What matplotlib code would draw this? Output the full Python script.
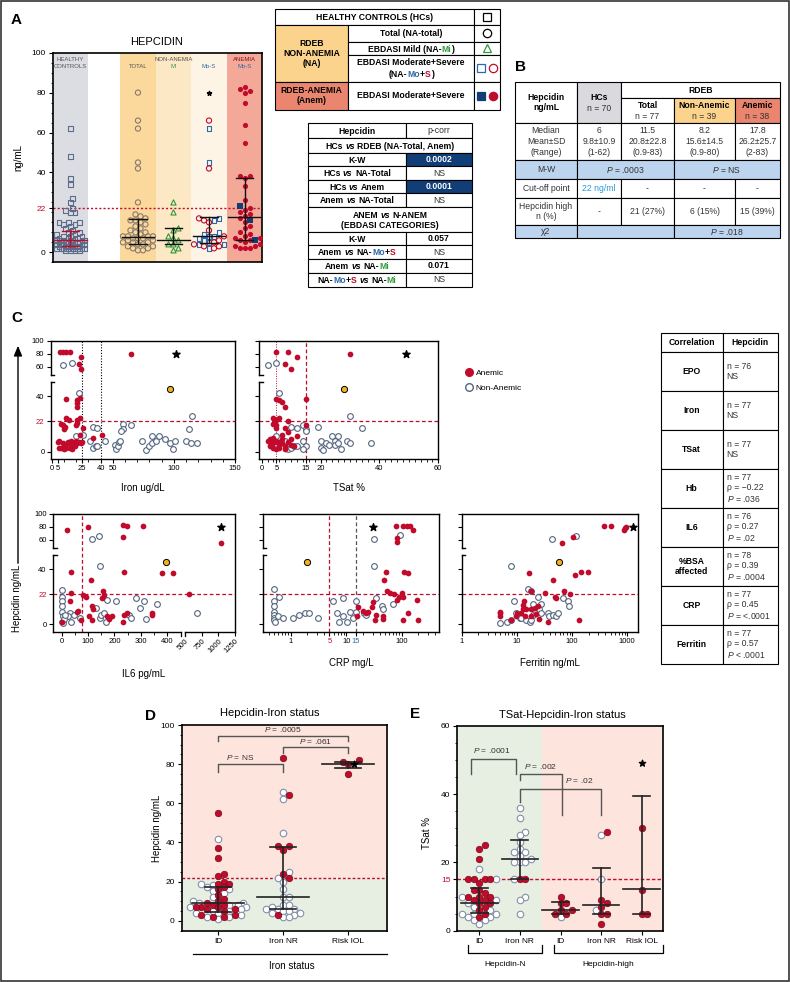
import re
import numpy as np
import matplotlib
matplotlib.use("Agg")
import matplotlib.pyplot as plt
from matplotlib.patches import Rectangle
from matplotlib.lines import Line2D
from matplotlib.ticker import MultipleLocator, FixedLocator, LogLocator, NullFormatter

W, H = 790, 982
SANS = ["Liberation Sans", "DejaVu Sans"]
NARROW = ["Liberation Sans Narrow", "Liberation Sans", "DejaVu Sans"]
plt.rcParams["font.family"] = SANS
plt.rcParams["mathtext.fontset"] = "custom"
plt.rcParams["mathtext.rm"] = "Liberation Sans"
plt.rcParams["mathtext.it"] = "Liberation Sans:italic"
plt.rcParams["axes.linewidth"] = 1.0

RED = "#c10b2d"
NAVY = "#123e78"
BLUE = "#2f68a8"
GREEN = "#2e9a3a"
GREYBLUE = "#55657e"
HC_EDGE = "#5b6d88"
TOT_EDGE = "#8a7a6a"
ORANGE_BG = "#fcd38d"
SALMON_BG = "#ea866f"
PINK = "#fde4dc"
MINT = "#e7efe3"

# ---------------- panel A: hepcidin by group ----------------
A_HC = [62, 48, 37, 34, 27, 25, 22, 21, 20, 20, 15, 15, 15, 14, 14, 13, 12, 11, 10, 10,
        9, 9, 8, 8, 8, 7, 7, 7, 7, 6, 6, 6, 6, 6, 6, 6, 5, 5, 5, 5,
        5, 5, 5, 4, 4, 4, 4, 4, 4, 4, 3, 3, 3, 3, 3, 3, 3, 3, 2, 2,
        2, 2, 2, 2, 2, 2, 1, 1, 1, 1]
A_TOTAL = [80, 66, 62, 45, 42, 25, 19, 18, 17, 16, 16, 15, 14, 13, 12, 11, 10, 10, 9, 8,
           8, 8, 8, 7, 7, 7, 6, 6, 5, 5, 5, 4, 4, 3, 3, 2, 2, 1, 1]
A_MI = [25, 20, 12, 11, 8, 7, 6, 4, 4, 2, 1]
A_MOS_SQ = [62, 45, 17, 16, 10, 9, 8, 8, 7, 6, 5, 4, 4, 2]
A_MOS_CIRC = [66, 42, 17, 16, 15, 11, 8, 6, 5, 4, 3, 3, 2]
A_MOS_STAR = [80]
A_AN_RED = [83, 82, 81, 80, 75, 64, 55, 38, 38, 37, 33, 26, 22, 21, 20, 19, 18, 17, 15, 13,
            12, 10, 9, 8, 7, 7, 6, 6, 5, 4, 3, 3, 2, 2, 2]
A_AN_SQ = [23, 16, 6]
A_MED = [6, 7.7, 6.3, 8.3, 17.7]
A_Q1 = [3, 4.3, 4, 4.7, 6]
A_Q3 = [10.5, 16.8, 12.3, 17.5, 37]

# ---------------- panel C: correlations ----------------
STAR_Y, GOLD_Y = 80, 45
IRON_AN = [(7, 82), (9, 82), (12, 82), (15, 83), (24, 75), (22, 64), (24, 57), (65, 80),
           (12, 38), (21, 37), (23, 39), (21, 32), (21, 35),
           (12, 24), (14, 23), (21, 23), (23, 24), (9, 19), (11, 18), (8, 20), (20, 19), (21, 21),
           (10, 16), (26, 17), (6, 8), (6, 3), (8, 3), (9, 6), (10, 2), (11, 5), (12, 3), (13, 7),
           (14, 6), (15, 3), (16, 5), (17, 2), (18, 6), (19, 4), (20, 8), (21, 6), (22, 7), (24, 6),
           (25, 7), (34, 10), (41, 12), (23, 12), (5, 7), (16, 8)]
IRON_NON = [(9, 62), (17, 66), (22, 42), (20, 11), (26, 12), (31, 8), (34, 18), (37, 17), (34, 3),
            (36, 4), (37, 4), (44, 8), (58, 20), (58, 16), (57, 15), (65, 19), (52, 5), (53, 2),
            (54, 4), (55, 7), (56, 8), (74, 8), (77, 1), (80, 4), (82, 6), (85, 8), (82, 11),
            (88, 11), (93, 9), (97, 6), (99, 2), (101, 8), (110, 8), (112, 16), (114, 6),
            (115, 26), (119, 6)]
IRON_STAR, IRON_GOLD = 102, 97

TSAT_AN = [(5, 82), (9, 83), (8, 64), (10, 57), (12, 75), (30, 80), (5, 38), (6, 37), (7, 36),
           (8, 32), (15, 38), (4, 24), (5, 23), (6, 24), (9, 22), (4, 20), (5, 17), (5, 19),
           (8, 17), (9, 14), (12, 11), (15, 19), (2, 8), (3, 7), (3, 4), (4, 3), (4, 6), (5, 2),
           (5, 8), (6, 5), (6, 3), (7, 9), (7, 6), (8, 4), (8, 2), (9, 7), (10, 5), (6, 7), (3, 9),
           (4, 10), (7, 12), (11, 4), (10, 9)]
TSAT_NON = [(2, 62), (5, 66), (6, 42), (5, 11), (10, 18), (12, 17), (14, 19), (15, 16), (15, 15),
            (19, 18), (8, 8), (9, 2), (10, 3), (11, 4), (12, 4), (14, 8), (15, 4), (14, 2), (20, 8),
            (20, 3), (21, 1), (24, 11), (26, 11), (25, 8), (25, 5), (26, 6), (27, 2), (29, 8),
            (30, 6), (30, 26), (34, 17), (37, 6), (22, 6), (23, 5)]
TSAT_STAR, TSAT_GOLD = 49, 28

IL6_AN = [(19, 75), (101, 80), (232, 83), (247, 82), (310, 81), (232, 64), (1040, 55), (35, 38),
          (237, 38), (380, 37), (424, 37), (110, 32), (565, 22), (0, 2), (35, 23), (30, 17),
          (63, 10), (72, 3), (82, 21), (93, 20), (105, 6), (114, 3), (114, 13), (120, 11),
          (152, 19), (158, 24), (161, 21), (171, 6), (181, 4), (190, 6), (232, 2), (237, 7),
          (247, 8), (342, 8), (344, 7), (60, 9)]
IL6_NON = [(114, 62), (143, 66), (145, 42), (2, 25), (3, 20), (2, 17), (2, 13), (3, 9), (4, 6),
           (3, 2), (5, 1), (30, 8), (47, 7), (25, 6), (36, 2), (68, 5), (130, 12), (145, 5),
           (150, 7), (160, 8), (167, 2), (171, 18), (206, 17), (282, 19), (298, 12), (311, 17),
           (256, 7), (263, 5), (319, 4), (363, 15), (675, 8), (10, 4), (12, 7)]
IL6_STAR, IL6_GOLD = 1040, 396

CRP_AN = [(79, 82), (107, 81), (123, 82), (141, 82), (162, 75), (81, 63), (82, 57), (52, 38),
          (48, 32), (110, 38), (131, 37), (54, 24), (62, 23), (73, 22), (81, 18), (91, 20),
          (104, 20), (100, 23), (186, 18), (16.5, 12.5), (20, 10), (23, 8), (15.5, 6), (29, 12.5),
          (34, 7), (47, 6), (47, 4), (107, 3), (129, 8), (199, 3), (33, 3), (25, 9), (30, 16)]
CRP_NON = [(32, 62), (93, 67), (32, 42), (0.51, 26), (0.62, 20), (0.51, 17), (0.51, 13),
           (0.51, 9), (0.51, 7), (0.51, 5), (0.51, 3), (0.52, 1.5), (0.58, 6), (0.72, 5), (1.1, 5),
           (1.43, 7), (1.8, 8), (2.1, 8), (3.1, 5), (5.9, 17), (6.9, 8), (7.4, 2), (8.9, 19),
           (8.9, 6), (10.2, 2), (11.7, 9), (13.1, 5), (15, 17), (15, 9), (21, 8), (23, 7), (34, 19),
           (44, 13), (47, 11), (69, 15)]
CRP_STAR, CRP_GOLD = 30, 2.0

FER_AN = [(377, 82), (505, 81), (908, 79), (946, 80), (881, 76), (66, 56), (104, 64), (16.5, 37),
          (46, 32), (112, 36), (144, 38), (195, 38), (33, 23), (72, 24), (93, 22), (49, 20),
          (52, 19), (17.7, 24.5), (13.4, 17), (12.9, 14), (14.8, 11), (18.3, 11), (24, 13),
          (12.9, 11), (11.7, 8), (9.8, 6), (14, 6), (18.3, 6), (22.5, 7.5), (25.5, 4), (21, 12),
          (10, 8), (4.85, 9), (4.85, 8), (4.85, 6), (7.7, 3), (37, 2), (134, 3)]
FER_NON = [(43, 62), (117, 66), (7.7, 42), (15.8, 26), (18.3, 24), (8.7, 17), (4.85, 1),
           (6.6, 2), (7.9, 3), (9.8, 8), (11.2, 5), (12, 5), (14.8, 3), (17, 2), (18.3, 3),
           (19.6, 7), (22.5, 9), (24, 20), (27.7, 15), (20, 15), (25, 11), (27.7, 8), (36.6, 8),
           (38, 6), (45, 7), (52, 6), (56, 8), (69, 19), (85, 17), (88, 13)]
FER_STAR, FER_GOLD = 1253, 57

CORR_NAMES = ["EPO", "Iron", "TSat", "Hb", "IL6", "%BSA\naffected", "CRP", "Ferritin"]
CORR_VALUES = ["n = 76\nNS", "n = 77\nNS", "n = 77\nNS",
               "n = 77\nρ = −0.22\n$P$ = .036", "n = 76\nρ = 0.27\n$P$ = .02",
               "n = 78\nρ = 0.39\n$P$ = .0004", "n = 77\nρ = 0.45\n$P$ = <.0001",
               "n = 77\nρ = 0.57\n$P$ < .0001"]

# ---------------- panel D: hepcidin by iron status ----------------
D_CATS = ["ID", "Iron NR", "Risk IOL"]
D_RED = [[55, 37, 32, 24, 23, 20, 19, 19, 17, 16, 13, 11, 10, 9, 8, 8, 7, 7, 7, 6, 6, 5, 3, 3, 2, 2],
         [83, 64, 38, 38, 36, 24, 22, 3],
         [82, 81, 80, 75]]
D_OPEN = [[42, 19, 18, 17, 16, 15, 14, 12, 10, 9, 9, 8, 8, 7, 7, 6, 5, 5, 4, 4, 3, 2, 2, 1],
          [66, 62, 45, 25, 22, 20, 16, 12, 12, 8, 8, 7, 6, 6, 6, 5, 5, 4, 4, 3, 2, 2],
          []]
D_STAR = [[], [], [80]]
D_MED = [8.9, 12.3, 80]
D_Q1 = [4.6, 6, 77.8]
D_Q3 = [17.4, 37.6, 81.3]

# ---------------- panel E: TSat by hepcidin / iron status ----------------
E_CATS = ["ID", "Iron NR", "ID", "Iron NR", "Risk IOL"]
E_RED = [[25, 24, 21, 15, 15, 15, 15, 14, 12, 12, 11, 10, 10, 10, 9, 9, 8, 8, 7, 6, 5, 4],
         [15, 15],
         [10, 8, 8, 6, 6, 5, 5],
         [29, 9, 8, 7, 5, 5, 2],
         [30, 12, 5, 5]]
E_OPEN = [[18, 15, 10, 9, 8, 7, 6, 5, 5, 5, 4, 4, 3, 3, 2],
          [36, 33, 29, 28, 26, 24, 23, 23, 22, 21, 20, 20, 20, 15, 10, 9, 5],
          [4],
          [28, 15, 6],
          []]
E_STAR = [[], [], [], [], [49]]
E_MED = [8, 21, 6.1, 7.6, 12.1]
E_Q1 = [5.1, 15, 5, 5, 5]
E_Q3 = [12.4, 26.5, 8.5, 18.3, 39.4]


def swarm(vals, xpu, ypu, diam, half):
    """x offsets (data units) for a simple beeswarm; xpu/ypu are px per unit."""
    vals = np.asarray(vals, dtype=float)
    off = np.zeros(len(vals))
    step = diam * 0.5
    n = max(1, int(half * xpu / step))
    cands = [0.0]
    for k in range(1, n + 1):
        cands += [k * step, -k * step]
    px, py = [], []
    for i in np.argsort(vals, kind="stable"):
        y = vals[i] * ypu
        best, best_d = 0.0, -1.0
        for c in cands:
            d = np.min(np.hypot(np.array(px) - c, np.array(py) - y)) if px else np.inf
            if d >= diam:
                best = c
                break
            if d > best_d:
                best, best_d = c, d
        off[i] = best / xpu
        px.append(best)
        py.append(y)
    return off


def summary(ax, xc, med, q1, q3, color, mw, cw, lw):
    ax.plot([xc - mw / 2, xc + mw / 2], [med, med], color=color, lw=lw, zorder=5)
    ax.plot([xc, xc], [q1, q3], color=color, lw=lw, zorder=5)
    for q in (q1, q3):
        ax.plot([xc - cw / 2, xc + cw / 2], [q, q], color=color, lw=lw, zorder=5)


fig = plt.figure(figsize=(W / 100, H / 100), dpi=100)
ax0 = fig.add_axes([0, 0, 1, 1])
ax0.set_xlim(0, W)
ax0.set_ylim(H, 0)
ax0.axis("off")
RENDERER = fig.canvas.get_renderer()


def px_axes(x0, y0, x1, y1):
    return fig.add_axes([x0 / W, 1 - y1 / H, (x1 - x0) / W, (y1 - y0) / H])


def cell(x0, x1, y0, y1, bg="white"):
    ax0.add_patch(Rectangle((x0, y0), x1 - x0, y1 - y0, facecolor=bg, edgecolor="black",
                            lw=0.8, zorder=1))


def txt(x, y, s, size=6.2, weight="normal", color="black", ha="center", va="center",
        family=SANS, **kw):
    return ax0.text(x, y, s, fontsize=size, fontweight=weight, color=color, ha=ha, va=va,
                    family=family, zorder=3, **kw)


COLORS = {"g": GREEN, "b": BLUE, "r": RED}


def rich(x, y, markup, size=6.2, weight="bold"):
    """centred text: '{i:vs}' is an italic word, '{g:Mi}' etc. a coloured piece."""
    runs = []  # [pieces, style]; pieces = [[text, colour], ...]
    for w in markup.split(" "):
        toks = re.findall(r"\{(\w):([^}]*)\}|([^{]+)", w)
        if len(toks) == 1 and toks[0][0] == "i":
            runs.append([[[toks[0][1], "black"]], "italic"])
            continue
        if not runs or runs[-1][1] == "italic":
            runs.append([[], "normal"])
            lead = ""
        else:
            lead = " "
        pieces = runs[-1][0]
        for code, inner, plain in toks:
            s, col = (lead + plain, "black") if plain else (inner, COLORS[code])
            if not plain and lead:
                pieces.append([lead, "black"])
            lead = ""
            if pieces and pieces[-1][1] == col:
                pieces[-1][0] += s
            else:
                pieces.append([s, col])
    base = y + 0.36 * size * 100 / 72
    kw = dict(fontsize=size, fontweight=weight, va="baseline", family=SANS, zorder=3)

    def width(s, st):
        t = ax0.text(0, base, s, fontstyle=st, ha="left", **kw)
        wd = t.get_window_extent(RENDERER).width
        t.remove()
        return wd

    space = width("n n", "normal") - width("nn", "normal")
    run_w = [width("".join(p for p, _ in pcs), st) for pcs, st in runs]
    cur = x - (sum(run_w) + space * (len(runs) - 1)) / 2
    for (pcs, st), rw in zip(runs, run_w):
        prefix = ""
        for s, col in pcs:
            prefix += s
            # right edge of each piece sits where the whole prefix would end
            ax0.text(cur + width(prefix, st), base, s, fontstyle=st, color=col,
                     ha="right", **kw)
        cur += rw + space


# outer frame and panel letters
ax0.add_patch(Rectangle((1, 1), W - 2, H - 2, fill=False, edgecolor="#333", lw=1.2))
for letter, x, y in [("A", 16, 20), ("B", 520, 67), ("C", 17, 318), ("D", 150, 716), ("E", 415, 714)]:
    txt(x, y, letter, size=11, weight="bold")

# ================= Panel A plot =================
axA = px_axes(52.7, 52.7, 262.3, 262.3)
axA.set_xlim(0, 5.9)
axA.set_ylim(-5, 100)
band_left = [0, 1.9, 2.9, 3.9, 4.9]
band_cols = ["#dcdce3", "#fbd89c", "#fde8c6", "#fef4e6", "#f3a898"]
for left, col in zip(band_left, band_cols):
    axA.axvspan(left, left + 1, color=col, lw=0, zorder=0)
cen = [b + 0.5 for b in band_left]
xpuA, ypuA = 209.6 / 5.9, 209.6 / 105

off = swarm(A_HC, xpuA, ypuA, 4.6, 0.45)
axA.scatter(cen[0] + off, A_HC, marker="s", s=12, facecolor="none", edgecolor=HC_EDGE, lw=0.8, zorder=3)
off = swarm(A_TOTAL, xpuA, ypuA, 5.0, 0.45)
axA.scatter(cen[1] + off, A_TOTAL, marker="o", s=14, facecolor="none", edgecolor=TOT_EDGE, lw=0.8, zorder=3)
off = swarm(A_MI, xpuA, ypuA, 5.0, 0.45)
axA.scatter(cen[2] + off, A_MI, marker="^", s=14, facecolor="none", edgecolor=GREEN, lw=0.8, zorder=3)
mos = A_MOS_SQ + A_MOS_CIRC + A_MOS_STAR
off = swarm(mos, xpuA, ypuA, 5.0, 0.45)
n1, n2 = len(A_MOS_SQ), len(A_MOS_SQ) + len(A_MOS_CIRC)
axA.scatter(cen[3] + off[:n1], A_MOS_SQ, marker="s", s=12, facecolor="none", edgecolor=BLUE, lw=0.8, zorder=3)
axA.scatter(cen[3] + off[n1:n2], A_MOS_CIRC, marker="o", s=14, facecolor="none", edgecolor=RED, lw=0.8, zorder=3)
axA.scatter(cen[3] + off[n2:], A_MOS_STAR, marker="*", s=10, color="black", zorder=3)
an = A_AN_RED + A_AN_SQ
off = swarm(an, xpuA, ypuA, 5.0, 0.45)
n1 = len(A_AN_RED)
axA.scatter(cen[4] + off[:n1], A_AN_RED, marker="o", s=14, color=RED, lw=0, zorder=3)
axA.scatter(cen[4] + off[n1:], A_AN_SQ, marker="s", s=14, color=NAVY, lw=0, zorder=3)
for i in range(5):
    summary(axA, cen[i], A_MED[i], A_Q1[i], A_Q3[i], RED if i == 0 else "#111", 0.92, 0.5, 1.0)
axA.axhline(22, color=RED, ls=(0, (1.5, 1.5)), lw=1.0, zorder=2)
axA.set_xticks([])
axA.set_yticks([0, 22, 40, 60, 80, 100])
axA.yaxis.set_minor_locator(MultipleLocator(5))
axA.tick_params(axis="y", labelsize=6, length=3, width=0.8, pad=2)
axA.tick_params(axis="y", which="minor", length=1.8, width=0.6)
axA.get_yticklabels()[1].set_color(RED)
for sp in axA.spines.values():
    sp.set_linewidth(1.2)
hdr = dict(fontsize=4.3, ha="center", va="center", zorder=4)
axA.text(cen[0], 96.8, "HEALTHY", color="#555", **hdr)
axA.text(cen[0], 93.3, "CONTROLS", color="#555", **hdr)
axA.text(cen[1], 93.3, "TOTAL", color="#555", **hdr)
axA.text(cen[2], 96.8, "NON-ANEMIA", color="#555", **hdr)
axA.text(cen[2], 93.3, "Mi", color=GREEN, **hdr)
axA.text(cen[3], 93.3, "Mo-S", color=BLUE, **hdr)
axA.text(cen[4], 96.8, "ANEMIA", color="#8a0f1f", **hdr)
axA.text(cen[4], 93.3, "Mo-S", color=BLUE, **hdr)
txt(157, 42, "HEPCIDIN", size=8)
txt(18, 157, "ng/mL", size=7, rotation=90)

# ================= Panel A tables =================
cell(275, 474, 9.3, 25); cell(474, 500, 9.3, 25)
cell(275, 348, 25, 81.7, ORANGE_BG)
cell(348, 474, 25, 41.7); cell(474, 500, 25, 41.7)
cell(348, 474, 41.7, 55); cell(474, 500, 41.7, 55)
cell(348, 474, 55, 81.7); cell(474, 500, 55, 81.7)
cell(275, 348, 81.7, 110, SALMON_BG); cell(348, 474, 81.7, 110); cell(474, 500, 81.7, 110)
txt(374.5, 17.3, "HEALTHY CONTROLS (HCs)", weight="bold")
txt(311.5, 53.3, "RDEB\nNON-ANEMIA\n(NA)", weight="bold", linespacing=1.15)
txt(411, 33.4, "Total (NA-total)", weight="bold")
rich(411, 48.4, "EBDASI Mild (NA-{g:Mi})")
txt(411, 62.8, "EBDASI Moderate+Severe", weight="bold")
rich(411, 74.2, "(NA-{b:Mo}+{r:S})")
txt(311.5, 95.8, "RDEB-ANEMIA\n(Anem)", weight="bold", linespacing=1.15)
txt(411, 95.8, "EBDASI Moderate+Severe", weight="bold")
sym = dict(ls="none", ms=6, mew=0.9, zorder=3)
ax0.plot(487, 17.3, marker="s", mfc="none", mec="black", **sym)
ax0.plot(487, 33.4, marker="o", mfc="none", mec="black", **sym)
ax0.plot(487, 48.4, marker="^", mfc="none", mec=GREEN, **sym)
ax0.plot(481, 68.3, marker="s", mfc="none", mec=BLUE, **sym)
ax0.plot(493, 68.3, marker="o", mfc="none", mec=RED, **sym)
ax0.plot(481, 95.8, marker="s", mfc=NAVY, mec=NAVY, **sym)
ax0.plot(493, 95.8, marker="o", mfc=RED, mec=RED, **sym)

PX = [308, 406, 472]
PY = [123, 138, 153, 166, 180, 193, 207, 232, 245, 259, 273, 287]
P_LEFT = ["Hepcidin", "HCs {i:vs} RDEB (NA-Total, Anem)", "K-W", "HCs {i:vs} NA-Total",
          "HCs {i:vs} Anem", "Anem {i:vs} NA-Total", None, "K-W", "Anem {i:vs} NA-{b:Mo}+{r:S}",
          "Anem {i:vs} NA-{g:Mi}", "NA-{b:Mo}+{r:S} {i:vs} NA-{g:Mi}"]
P_RIGHT = ["p-corr", None, "0.0002", "NS", "0.0001", "NS", None, "0.057", "NS", "0.071", "NS"]
for r in range(len(P_LEFT)):
    y0, y1 = PY[r], PY[r + 1]
    ym = (y0 + y1) / 2
    if P_RIGHT[r] is None:
        cell(PX[0], PX[2], y0, y1)
        if P_LEFT[r] is None:
            rich((PX[0] + PX[2]) / 2, y0 + 7.5, "ANEM {i:vs} N-ANEM")
            txt((PX[0] + PX[2]) / 2, y0 + 18.5, "(EBDASI CATEGORIES)", weight="bold")
        else:
            rich((PX[0] + PX[2]) / 2, ym, P_LEFT[r])
        continue
    cell(PX[0], PX[1], y0, y1)
    rich((PX[0] + PX[1]) / 2, ym, P_LEFT[r])
    val = P_RIGHT[r]
    if val in ("0.0002", "0.0001"):
        cell(PX[1], PX[2], y0, y1, NAVY)
        txt((PX[1] + PX[2]) / 2, ym, val, weight="bold", color="white")
    else:
        cell(PX[1], PX[2], y0, y1)
        bold = val.startswith("0.")
        txt((PX[1] + PX[2]) / 2, ym, val, weight="bold" if bold else "normal",
            color="black" if bold else "#333")

# ================= Panel B table =================
BX = [515, 577, 621, 674, 735, 780]
BY = [82, 98, 123, 160, 179, 198, 225, 238]
LBLUE = "#bcd4ee"
cell(BX[0], BX[1], BY[0], BY[2])
cell(BX[1], BX[2], BY[0], BY[2], "#d9d9de")
cell(BX[2], BX[5], BY[0], BY[1])
cell(BX[2], BX[3], BY[1], BY[2])
cell(BX[3], BX[4], BY[1], BY[2], ORANGE_BG)
cell(BX[4], BX[5], BY[1], BY[2], SALMON_BG)
txt((BX[0] + BX[1]) / 2, 102.5, "Hepcidin\nng/mL", weight="bold", linespacing=1.2)
txt((BX[1] + BX[2]) / 2, 97.5, "HCs", weight="bold")
txt((BX[1] + BX[2]) / 2, 108.5, "n = 70", color="#333")
txt((BX[2] + BX[5]) / 2, 90, "RDEB", weight="bold")
for i, (name, n) in enumerate([("Total", "n = 77"), ("Non-Anemic", "n = 39"), ("Anemic", "n = 38")]):
    xm = (BX[2 + i] + BX[3 + i]) / 2
    txt(xm, 105, name, weight="bold")
    txt(xm, 116.5, n, color="#333")
B_STATS = ["Median\nMean±SD\n(Range)", "6\n9.8±10.9\n(1-62)", "11.5\n20.8±22.8\n(0.9-83)",
           "8.2\n15.6±14.5\n(0.9-80)", "17.8\n26.2±25.7\n(2-83)"]
for i, s in enumerate(B_STATS):
    cell(BX[i], BX[i + 1], BY[2], BY[3])
    txt((BX[i] + BX[i + 1]) / 2, (BY[2] + BY[3]) / 2, s, color="#333", linespacing=1.25)
cell(BX[0], BX[1], BY[3], BY[4], LBLUE)
cell(BX[1], BX[3], BY[3], BY[4], LBLUE)
cell(BX[3], BX[5], BY[3], BY[4], LBLUE)
txt((BX[0] + BX[1]) / 2, (BY[3] + BY[4]) / 2, "M-W", color="#333")
txt((BX[1] + BX[3]) / 2, (BY[3] + BY[4]) / 2, "$P$ = .0003", color="#333")
txt((BX[3] + BX[5]) / 2, (BY[3] + BY[4]) / 2, "$P$ = NS", color="#333")
B_CUT = ["Cut-off point", "22 ng/ml", "-", "-", "-"]
B_HIGH = ["Hepcidin high\nn (%)", "-", "21 (27%)", "6 (15%)", "15 (39%)"]
for i in range(5):
    cell(BX[i], BX[i + 1], BY[4], BY[5])
    txt((BX[i] + BX[i + 1]) / 2, (BY[4] + BY[5]) / 2, B_CUT[i],
        color="#2a9bd8" if i == 1 else "#333")
    cell(BX[i], BX[i + 1], BY[5], BY[6])
    txt((BX[i] + BX[i + 1]) / 2, (BY[5] + BY[6]) / 2, B_HIGH[i], color="#333", linespacing=1.2)
cell(BX[0], BX[1], BY[6], BY[7], LBLUE)
cell(BX[1], BX[3], BY[6], BY[7], LBLUE)
cell(BX[3], BX[5], BY[6], BY[7], LBLUE)
txt((BX[0] + BX[1]) / 2, (BY[6] + BY[7]) / 2, "χ2", color="#333")
txt((BX[3] + BX[5]) / 2, (BY[6] + BY[7]) / 2, "$P$ = .018", color="#333")

# ================= Panel C scatter plots =================
YP = [-200, 0, 50, 51, 100, 1000]
YF = [-277, 0, 69.25, 78.85, 110.7, 695.7]
XP_IL6 = [-1000, 0, 450, 500, 1250, 5000]
XF_IL6 = [-263.3, 0, 118.5, 123.3, 173.3, 423.3]


def y_fwd(v):
    return np.interp(v, YP, YF)


def y_inv(v):
    return np.interp(v, YF, YP)


def c_axes(rect, pts_an, pts_non, star_x, gold_x, ylabels):
    ax = px_axes(*rect)
    ax.set_yscale("function", functions=(y_fwd, y_inv))
    ax.set_ylim(-5.27, 100)
    ax.set_yticks([0, 22, 40, 60, 80, 100])
    if ylabels:
        ax.set_yticklabels(["0", "22", "40", "60", "80", "100"])
        ax.get_yticklabels()[1].set_color(RED)
    else:
        ax.set_yticklabels([])
    ax.tick_params(labelsize=5.5, length=3, width=0.8, pad=1.5)
    ax.spines["left"].set_visible(False)
    tr = ax.transAxes
    for a, b, cap in [(0, 0.651, 0.651), (0.714, 1, 0.714)]:
        ax.plot([0, 0], [a, b], color="black", lw=1.0, transform=tr, clip_on=False)
        ax.plot([0, 0.02], [cap, cap], color="black", lw=1.0, transform=tr, clip_on=False)
    ax.axhline(22, color=RED, ls=(0, (3, 2)), lw=0.9, zorder=1)
    xn, yn = zip(*pts_non)
    xa, ya = zip(*pts_an)
    ax.scatter(xn, yn, s=17, facecolor="white", edgecolor=GREYBLUE, lw=0.8, zorder=3)
    ax.scatter(xa, ya, s=17, color=RED, lw=0, zorder=4)
    ax.scatter([star_x], [STAR_Y], marker="*", s=30, color="black", zorder=4)
    ax.scatter([gold_x], [GOLD_Y], s=20, facecolor="#f2b21c", edgecolor="black", lw=0.7, zorder=4)
    return ax


axI = c_axes((50.7, 340.7, 235, 459), IRON_AN, IRON_NON, IRON_STAR, IRON_GOLD, True)
axI.set_xlim(-0.8, 150)
axI.set_xticks([0, 5, 25, 40, 50, 100, 150])
axI.xaxis.set_minor_locator(MultipleLocator(10))
axI.axvline(25, color="black", ls=(0, (1, 1.5)), lw=0.8, zorder=1)
axI.axvline(40, color="black", ls=(0, (1, 1.5)), lw=0.8, zorder=1)

axT = c_axes((259.3, 340.7, 438.3, 459), TSAT_AN, TSAT_NON, TSAT_STAR, TSAT_GOLD, False)
axT.set_xlim(-0.8, 60)
axT.set_xticks([0, 5, 15, 20, 40, 60])
axT.xaxis.set_minor_locator(MultipleLocator(2))
axT.axvline(5, color=RED, ls=(0, (1, 1.5)), lw=0.7, zorder=1)
axT.axvline(15, color=RED, ls=(0, (3, 2)), lw=0.9, zorder=1)

axL = c_axes((53, 514, 235, 631.7), IL6_AN, IL6_NON, IL6_STAR, IL6_GOLD, True)
axL.set_xscale("function", functions=(lambda v: np.interp(v, XP_IL6, XF_IL6),
                                      lambda v: np.interp(v, XF_IL6, XP_IL6)))
axL.set_xlim(-33, 1250)
axL.set_xticks([0, 100, 200, 300, 400, 500, 750, 1000, 1250])
axL.xaxis.set_minor_locator(FixedLocator(np.arange(50, 450, 100)))
for lab in axL.get_xticklabels()[5:]:
    lab.set_rotation(45)
    lab.set_ha("right")
    lab.set_rotation_mode("anchor")
axL.spines["bottom"].set_visible(False)
for a, b in [(0, 0.705), (0.728, 1)]:
    axL.plot([a, b], [0, 0], color="black", lw=1.0, transform=axL.transAxes, clip_on=False)
for xb in (0.705, 0.728):
    axL.plot([xb, xb], [0.0, -0.04], color="black", lw=0.9, transform=axL.transAxes, clip_on=False)
axL.axvline(78, color=RED, ls=(0, (3, 2)), lw=0.9, zorder=1)

axC = c_axes((262.7, 514, 439.3, 631.7), CRP_AN, CRP_NON, CRP_STAR, CRP_GOLD, False)
axC.set_xscale("log")
axC.set_xlim(0.313, 476)
axC.set_xticks([1, 5, 10, 15, 100])
axC.set_xticklabels(["1", "5", "10", "15", "100"])
axC.xaxis.set_minor_locator(LogLocator(subs=np.arange(2, 10)))
axC.xaxis.set_minor_formatter(NullFormatter())
axC.get_xticklabels()[1].set_color(RED)
axC.get_xticklabels()[3].set_color(BLUE)
axC.axvline(5, color=RED, ls=(0, (3, 2)), lw=0.9, zorder=1)
axC.axvline(15, color="#555", ls=(0, (3, 2)), lw=0.9, zorder=1)

axF = c_axes((461.7, 514, 637.7, 631.7), FER_AN, FER_NON, FER_STAR, FER_GOLD, False)
axF.set_xscale("log")
axF.set_xlim(1, 1550)
axF.set_xticks([1, 10, 100, 1000])
axF.set_xticklabels(["1", "10", "100", "1000"])
axF.xaxis.set_minor_locator(LogLocator(subs=np.arange(2, 10)))
axF.xaxis.set_minor_formatter(NullFormatter())

for ax in (axI, axT, axL, axC, axF):
    ax.tick_params(axis="x", which="minor", length=1.8, width=0.6)

txt(143, 488, "Iron ug/dL", size=7, family=NARROW)
txt(349, 488, "TSat %", size=7, family=NARROW)
txt(144, 674, "IL6 pg/mL", size=7, family=NARROW)
txt(351, 663, "CRP mg/L", size=7, family=NARROW)
txt(550, 663, "Ferritin ng/mL", size=7, family=NARROW)
txt(17, 598, "Hepcidin ng/mL", size=7, family=NARROW, rotation=90)
ax0.annotate("", xy=(18, 343), xytext=(18, 566),
             arrowprops=dict(arrowstyle="-|>,head_width=0.25,head_length=0.6", color="black", lw=1))

h_an = Line2D([], [], ls="none", marker="o", ms=5.5, mfc=RED, mec=RED)
h_non = Line2D([], [], ls="none", marker="o", ms=5.5, mfc="white", mec=GREYBLUE, mew=1)
fig.legend(handles=[h_an, h_non], labels=["Anemic", "Non-Anemic"], loc="upper left",
           bbox_to_anchor=(460 / W, 1 - 365 / H), frameon=False, fontsize=6,
           handletextpad=0.2, labelspacing=0.8, borderpad=0, handlelength=1.2)

# correlation table
KX = [660.7, 722.7, 777.7]
KY = [332.7, 352.3, 391, 430, 469, 508, 547, 586, 625, 664]
cell(KX[0], KX[1], KY[0], KY[1]); cell(KX[1], KX[2], KY[0], KY[1])
txt((KX[0] + KX[1]) / 2, (KY[0] + KY[1]) / 2, "Correlation", weight="bold")
txt((KX[1] + KX[2]) / 2, (KY[0] + KY[1]) / 2, "Hepcidin", weight="bold")
for i, (name, val) in enumerate(zip(CORR_NAMES, CORR_VALUES)):
    y0, y1 = KY[i + 1], KY[i + 2]
    cell(KX[0], KX[1], y0, y1); cell(KX[1], KX[2], y0, y1)
    txt((KX[0] + KX[1]) / 2, (y0 + y1) / 2, name, weight="bold", linespacing=1.2)
    txt(KX[1] + 4, (y0 + y1) / 2, val, ha="left", color="#333", linespacing=1.2)

# ================= Panel D =================
axD = px_axes(181.7, 725, 387.3, 930.7)
axD.set_xlim(-0.563, 2.6)
axD.set_ylim(-5.1, 100)
axD.axhspan(22, 100, color=PINK, lw=0, zorder=0)
axD.axhspan(-5.1, 22, color=MINT, lw=0, zorder=0)
axD.axhline(22, color=RED, ls=(0, (2, 1.5)), lw=1.0, zorder=1)
xpuD, ypuD = 65.0, 1.957
for i in range(3):
    vals = D_RED[i] + D_OPEN[i] + D_STAR[i]
    off = swarm(vals, xpuD, ypuD, 5.6, 0.48)
    n1, n2 = len(D_RED[i]), len(D_RED[i]) + len(D_OPEN[i])
    if D_OPEN[i]:
        axD.scatter(i + off[n1:n2], D_OPEN[i], s=22, facecolor="white", edgecolor="#8191a8", lw=0.8, zorder=3)
    axD.scatter(i + off[:n1], D_RED[i], s=22, facecolor=RED, edgecolor="#7a0a1a", lw=0.5, zorder=4)
    if D_STAR[i]:
        axD.scatter(i + off[n2:], D_STAR[i], marker="*", s=22, color="black", zorder=6)
    summary(axD, i, D_MED[i], D_Q1[i], D_Q3[i], "#222", 0.8, 0.4, 1.2)
D_BRACKETS = [(0, 1, 80, 76, 76, "$P$ = NS", 0.33, 83.3),
              (0, 2, 94.4, 91.8, 91.8, "$P$ = .0005", 1.0, 97.6),
              (1, 2, 88.6, 85.5, 85.5, "$P$ = .061", 1.5, 91.6)]
for xa, xb, top, da, db, lab, lx, ly in D_BRACKETS:
    axD.plot([xa, xa, xb, xb], [da, top, top, db], color="#555", lw=1.0, zorder=5)
    axD.text(lx, ly, lab, fontsize=6, ha="center", va="center", color="#333")
axD.set_xticks(range(3))
axD.set_xticklabels(D_CATS)
axD.set_yticks(range(0, 101, 20))
axD.yaxis.set_minor_locator(MultipleLocator(5))
axD.tick_params(labelsize=6, length=3, width=0.8, pad=2)
axD.tick_params(axis="y", which="minor", length=1.8, width=0.6)
for sp in axD.spines.values():
    sp.set_linewidth(1.2)
txt(270, 713, "Hepcidin-Iron status", size=8)
txt(157, 828, "Hepcidin ng/mL", size=7, family=NARROW, rotation=90)
ax0.plot([193, 387], [954, 954], color="black", lw=0.9)
txt(291.7, 966, "Iron status", size=7, family=NARROW)

# ================= Panel E =================
axE = px_axes(457.3, 725.7, 663.3, 930.7)
axE.set_xlim(-0.54, 4.53)
axE.set_ylim(0, 60)
axE.axvspan(-0.54, 1.54, color=MINT, lw=0, zorder=0)
axE.axvspan(1.54, 4.53, color=PINK, lw=0, zorder=0)
axE.axhline(15, color=RED, ls=(0, (2.5, 1.5)), lw=1.0, zorder=1)
xpuE, ypuE = 40.6, 3.415
for i in range(5):
    vals = E_RED[i] + E_OPEN[i] + E_STAR[i]
    off = swarm(vals, xpuE, ypuE, 5.6, 0.45)
    n1, n2 = len(E_RED[i]), len(E_RED[i]) + len(E_OPEN[i])
    if E_OPEN[i]:
        axE.scatter(i + off[n1:n2], E_OPEN[i], s=22, facecolor="white", edgecolor="#8191a8", lw=0.8, zorder=3)
    axE.scatter(i + off[:n1], E_RED[i], s=22, facecolor=RED, edgecolor="#7a0a1a", lw=0.5, zorder=4)
    if E_STAR[i]:
        axE.scatter(i + off[n2:], E_STAR[i], marker="*", s=22, color="black", zorder=6)
    summary(axE, i, E_MED[i], E_Q1[i], E_Q3[i], "#222", 0.9, 0.42, 1.2)
E_BRACKETS = [(-0.2, 0.9, 50.2, 46, 46, "$P$ = .0001", 0.31, 52.6),
              (1, 2.03, 45.8, 44.1, 33.8, "$P$ = .002", 1.5, 48.0),
              (1, 3, 41.5, 37.8, 33.8, "$P$ = .02", 2.46, 43.9)]
for xa, xb, top, da, db, lab, lx, ly in E_BRACKETS:
    axE.plot([xa, xa, xb, xb], [da, top, top, db], color="#555", lw=1.0, zorder=5)
    axE.text(lx, ly, lab, fontsize=6, ha="center", va="center", color="#333")
axE.set_xticks(range(5))
axE.set_xticklabels(E_CATS)
axE.set_yticks([0, 15, 20, 40, 60])
axE.yaxis.set_minor_locator(MultipleLocator(5))
axE.tick_params(labelsize=6, length=3, width=0.8, pad=2)
axE.tick_params(axis="y", which="minor", length=1.8, width=0.6)
axE.get_yticklabels()[1].set_color(RED)
for sp in axE.spines.values():
    sp.set_linewidth(1.2)
txt(562, 715, "TSat-Hepcidin-Iron status", size=8)
txt(427, 833, "TSat %", size=7, family=NARROW, rotation=90)
for xa, xb, lab in [(468, 541.7, "Hepcidin-N"), (554.3, 662.7, "Hepcidin-high")]:
    ax0.plot([xa, xa, xb, xb], [945, 953, 953, 945], color="black", lw=0.9)
    txt((xa + xb) / 2, 964, lab, size=6)

fig.savefig("out.png", dpi=100, facecolor="white")
